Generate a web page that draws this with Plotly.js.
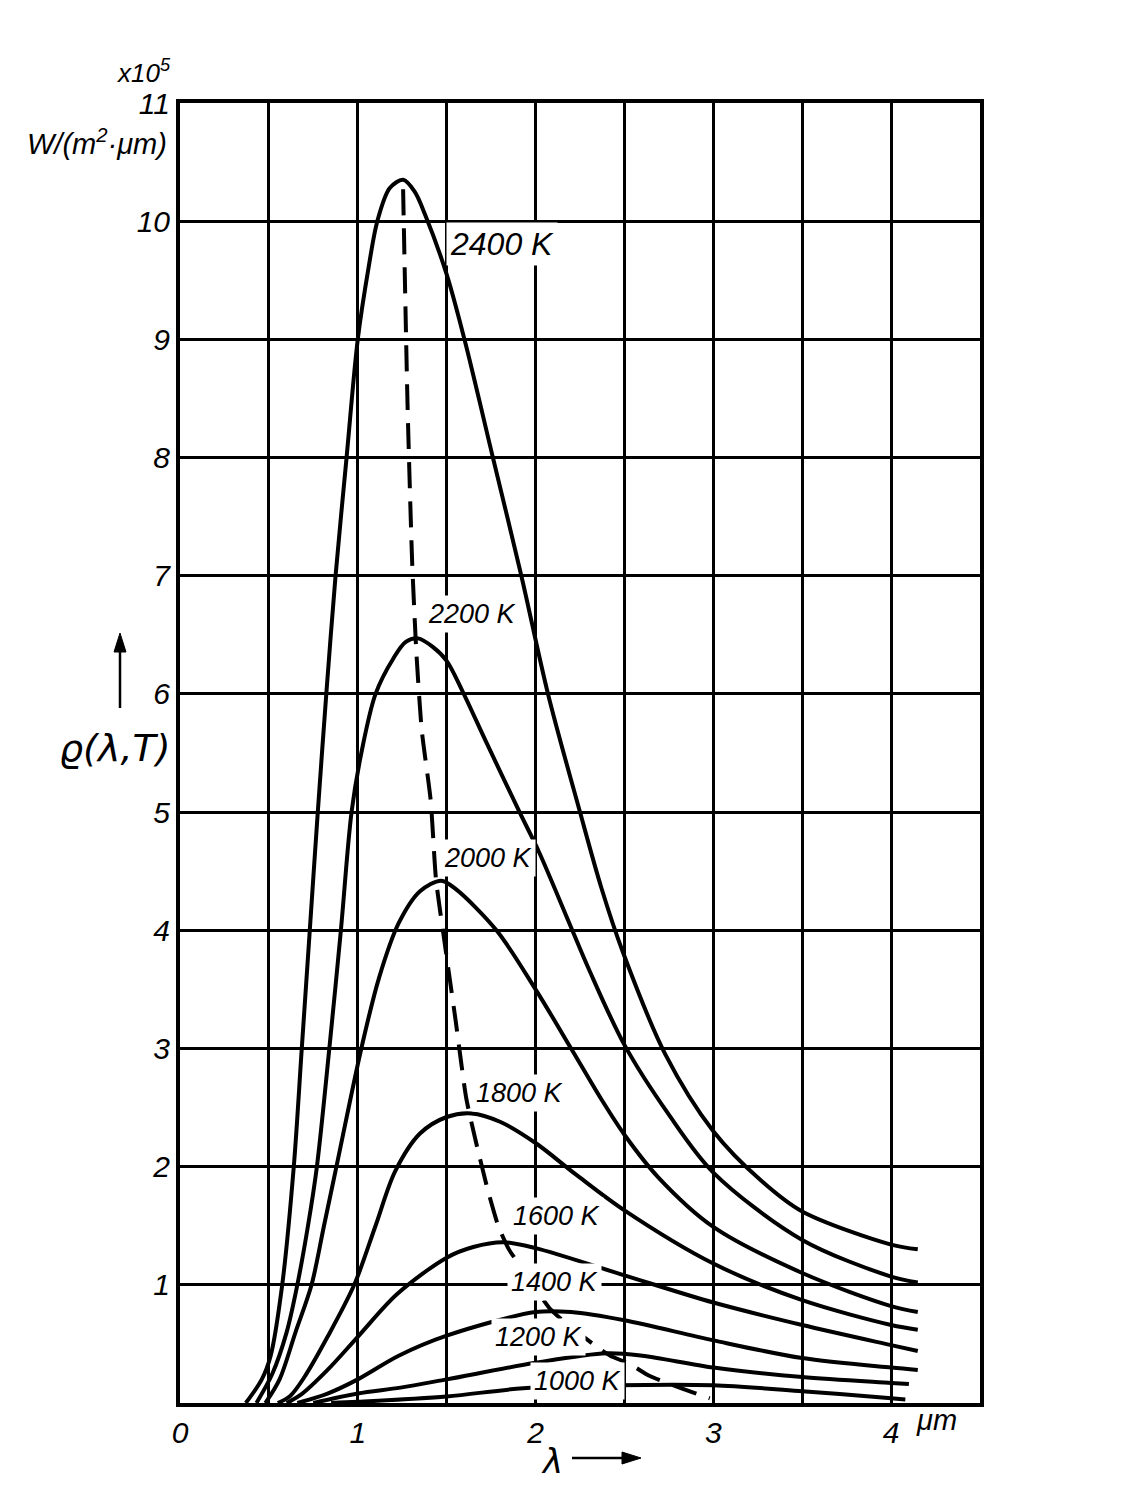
<!DOCTYPE html>
<html>
<head>
<meta charset="utf-8">
<script src="https://cdn.plot.ly/plotly-3.0.1.min.js"></script>
<style>
html,body{margin:0;padding:0;background:#fff;}
#chart{width:1125px;height:1485px;}
</style>
</head>
<body>
<div id="chart"></div>
<script>
// wavelength (µm) and spectral exitance (×10^5 W/(m²·µm))
const wl2400 = [0.37,0.46,0.51,0.575,0.64,0.685,0.73,0.775,0.823,0.875,0.937,1.0,1.06,1.11,1.18,1.255,1.32,1.38,1.50,1.60,1.76,1.92,2.07,2.25,2.37,2.49,2.73,3.0,3.27,3.5,4.0,4.15];
const r2400  = [0,0.2,0.4,1.0,2.0,3.0,4.0,5.0,6.0,7.0,8.0,9.0,9.6,10.0,10.28,10.35,10.25,10.05,9.55,9.0,8.0,7.0,6.0,5.0,4.36,3.82,2.95,2.3,1.88,1.62,1.34,1.30];

const wl2200 = [0.43,0.52,0.60,0.66,0.72,0.77,0.84,0.905,0.965,1.02,1.10,1.20,1.27,1.34,1.42,1.50,1.59,1.72,1.91,2.02,2.19,2.30,2.50,2.745,3.0,3.5,4.0,4.15];
const r2200  = [0,0.25,0.6,1.0,1.5,2.0,3.0,4.0,5.0,5.5,6.0,6.3,6.44,6.47,6.40,6.28,6.02,5.6,5.0,4.66,4.06,3.67,3.03,2.45,1.95,1.38,1.07,1.02];

const wl2000 = [0.48,0.56,0.65,0.74,0.81,0.88,1.02,1.12,1.23,1.35,1.47,1.55,1.78,2.0,2.2,2.37,2.5,2.69,3.0,3.5,4.0,4.15];
const r2000  = [0,0.2,0.6,1.0,1.5,2.0,3.0,3.6,4.06,4.33,4.42,4.35,4.0,3.5,3.0,2.57,2.27,1.91,1.49,1.10,0.82,0.77];

const wl1800 = [0.55,0.62,0.70,0.83,0.98,1.10,1.21,1.35,1.50,1.64,1.80,2.0,2.23,2.5,3.0,3.5,4.0,4.15];
const r1800  = [0,0.06,0.22,0.56,1.0,1.5,1.96,2.28,2.42,2.45,2.38,2.2,1.93,1.63,1.18,0.87,0.66,0.62];

const wl1600 = [0.60,0.68,0.83,1.0,1.22,1.50,1.65,1.82,2.0,2.5,3.0,3.5,4.0,4.15];
const r1600  = [0,0.07,0.28,0.56,0.92,1.23,1.32,1.36,1.31,1.08,0.85,0.66,0.49,0.44];

const wl1400 = [0.66,0.83,1.0,1.23,1.5,2.0,2.2,2.5,3.0,3.5,4.0,4.15];
const r1400  = [0,0.08,0.2,0.40,0.57,0.77,0.77,0.70,0.53,0.38,0.30,0.28];

const wl1200 = [0.75,1.0,1.24,1.5,2.0,2.4,2.6,3.0,3.5,4.0,4.1];
const r1200  = [0,0.08,0.13,0.2,0.34,0.42,0.40,0.30,0.22,0.17,0.16];

const wl1000 = [0.85,1.0,1.5,1.93,2.45,3.0,3.5,4.0,4.08];
const r1000  = [0,0.01,0.055,0.125,0.15,0.15,0.10,0.04,0.03];

// locus of maxima (dashed)
const wienX = [1.255,1.28,1.306,1.33,1.36,1.41,1.44,1.49,1.55,1.61,1.66,1.73,1.79,1.85,1.90,2.08,2.16,2.34,2.42,2.53,2.64,2.81,2.98];
const wienY = [10.27,8.44,7.11,6.34,5.69,5.1,4.43,3.88,3.24,2.58,2.24,1.81,1.5,1.3,1.19,0.8,0.69,0.48,0.40,0.33,0.23,0.13,0.04];

// curve labels
const labelText = ['2400 K','2200 K','2000 K','1800 K','1600 K','1400 K','1200 K','1000 K'];
const labelX    = [1.494,1.371,1.46,1.64,1.85,1.84,1.75,1.97];
const labelY    = [9.81,6.675,4.61,2.62,1.58,1.02,0.56,0.19];

// tick labels
const xTickVals = [0,1,2,3,4];
const xTickText = ['0','1','2','3','4'];
const yTickVals = [1,2,3,4,5,6,7,8,9,10,11];
const yTickText = ['1','2','3','4','5','6','7','8','9','10','11'];

const FONT = 'Liberation Sans, Arial, sans-serif';

const series = [
  [wl2400,r2400],[wl2200,r2200],[wl2000,r2000],[wl1800,r1800],
  [wl1600,r1600],[wl1400,r1400],[wl1200,r1200],[wl1000,r1000]
];
const traces = series.map(s => ({
  x: s[0], y: s[1], mode: 'lines', type: 'scatter',
  line: {color: '#000', width: 4, shape: 'spline', smoothing: 0.9},
  hoverinfo: 'skip', showlegend: false
}));
traces.push({
  x: wienX, y: wienY, mode: 'lines', type: 'scatter',
  line: {color: '#000', width: 4, dash: '26px,13px', shape: 'spline', smoothing: 0.6},
  hoverinfo: 'skip', showlegend: false
});

const annotations = labelText.map((t, i) => ({
  x: labelX[i], y: labelY[i], xref: 'x', yref: 'y',
  text: t, showarrow: false, xanchor: 'left', yanchor: 'middle',
  bgcolor: '#fff', borderpad: 3,
  font: {family: FONT, size: i === 0 ? 32 : 27, color: '#000', style: 'italic'}
}));

annotations.push(
  {xref: 'paper', yref: 'paper', x: -0.046, y: 1.024, xanchor: 'center', yanchor: 'middle',
   text: 'x10<sup>5</sup>', showarrow: false,
   font: {family: FONT, size: 26, color: '#000', style: 'italic'}},
  {xref: 'paper', yref: 'paper', x: -0.104, y: 0.970, xanchor: 'center', yanchor: 'middle',
   text: 'W/(m<sup>2</sup>·μm)', showarrow: false,
   font: {family: FONT, size: 29, color: '#000', style: 'italic'}},
  {xref: 'paper', yref: 'paper', x: -0.081, y: 0.504, xanchor: 'center', yanchor: 'middle',
   text: 'ϱ(λ,T)', showarrow: false,
   font: {family: 'DejaVu Sans, sans-serif', size: 38, color: '#000', style: 'italic'}},
  {xref: 'paper', yref: 'paper', x: 0.465, y: -0.0446, xanchor: 'center', yanchor: 'middle',
   text: 'λ', showarrow: false,
   font: {family: 'DejaVu Sans, sans-serif', size: 34, color: '#000', style: 'italic'}},
  {xref: 'paper', yref: 'paper', x: 0.945, y: -0.013, xanchor: 'center', yanchor: 'middle',
   text: 'μm', showarrow: false,
   font: {family: FONT, size: 29, color: '#000', style: 'italic'}}
);

// arrows next to the axis titles (paper coordinates)
const px = v => (v - 180) / 800;
const py = v => (1403 - v) / 1300;
const shapes = [
  {type: 'line', xref: 'paper', yref: 'paper', x0: px(120), x1: px(120), y0: py(708), y1: py(648),
   line: {color: '#000', width: 2.5}},
  {type: 'path', xref: 'paper', yref: 'paper',
   path: `M ${px(114)} ${py(652)} L ${px(126)} ${py(652)} L ${px(120)} ${py(633)} Z`,
   fillcolor: '#000', line: {color: '#000', width: 1}},
  {type: 'line', xref: 'paper', yref: 'paper', x0: px(572), x1: px(626), y0: py(1458), y1: py(1458),
   line: {color: '#000', width: 2.5}},
  {type: 'path', xref: 'paper', yref: 'paper',
   path: `M ${px(622)} ${py(1452)} L ${px(622)} ${py(1464)} L ${px(641)} ${py(1458)} Z`,
   fillcolor: '#000', line: {color: '#000', width: 1}}
];

const axisCommon = {
  showgrid: true, gridcolor: '#000', gridwidth: 3,
  showline: true, linecolor: '#000', linewidth: 4, mirror: true,
  zeroline: false, ticks: '', tickmode: 'array', fixedrange: true,
  tickfont: {family: FONT, size: 30, color: '#000', style: 'italic'}
};

const layout = {
  width: 1125, height: 1485,
  margin: {l: 180, r: 145, t: 103, b: 82},
  paper_bgcolor: '#fff', plot_bgcolor: '#fff',
  showlegend: false,
  xaxis: Object.assign({}, axisCommon, {
    range: [0, 4.5], tickvals: xTickVals, ticktext: xTickText,
    minor: {dtick: 0.5, tick0: 0, showgrid: true, gridcolor: '#000', gridwidth: 3, ticks: ''}
  }),
  yaxis: Object.assign({}, axisCommon, {range: [0, 11], tickvals: yTickVals, ticktext: yTickText}),
  annotations: annotations,
  shapes: shapes
};

Plotly.newPlot('chart', traces, layout, {staticPlot: true, displayModeBar: false});
</script>
</body>
</html>
